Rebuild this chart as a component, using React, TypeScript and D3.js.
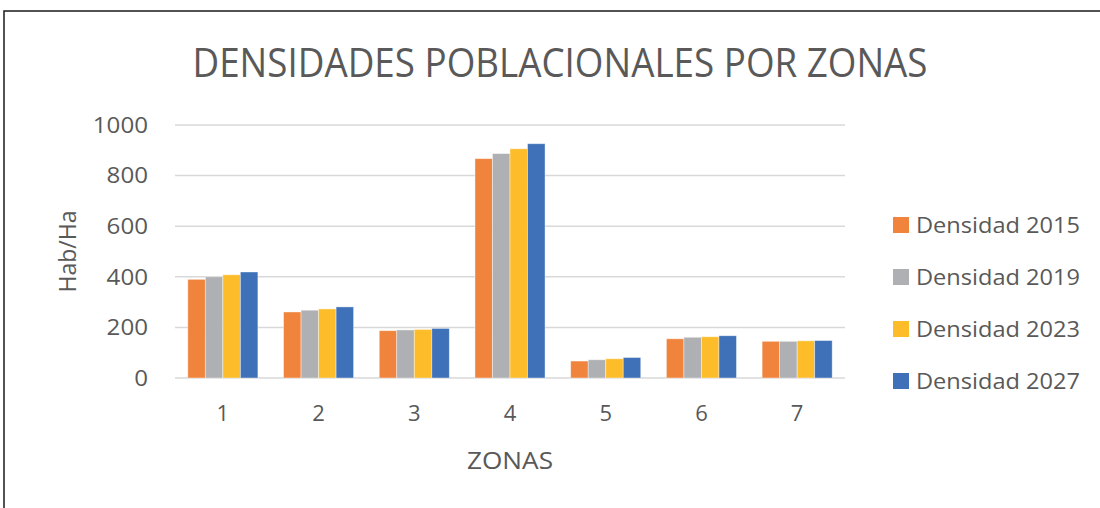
import React, { useEffect, useRef } from "react";
import * as d3 from "d3";

const width = 1100;
const height = 508;
const marginTop = 125;
const marginRight = 255;
const marginBottom = 130;
const marginLeft = 175;

const zonas = ["1", "2", "3", "4", "5", "6", "7"];
const series = ["Densidad 2015", "Densidad 2019", "Densidad 2023", "Densidad 2027"];
const d2015 = [390, 261, 187, 867, 67, 155, 145];
const d2019 = [400, 268, 190, 887, 72, 161, 145];
const d2023 = [408, 273, 192, 906, 76, 163, 147];
const d2027 = [419, 281, 196, 926, 81, 167, 148];
const yTicks = [0, 200, 400, 600, 800, 1000];
const colors = ["#F0843C", "#AFB0B3", "#FDBD2B", "#3E71B8"];

const font = "'Open Sans', sans-serif";
const textColor = "#595959";

export default function App() {
  const ref = useRef<SVGSVGElement>(null);

  useEffect(() => {
    const svg = d3.select(ref.current);
    svg.selectAll("*").remove();

    const values = [d2015, d2019, d2023, d2027];
    const rows = zonas.map((z, i) => ({ zona: z, vals: values.map(v => v[i]) }));

    const x0 = d3
      .scaleBand()
      .domain(zonas)
      .range([marginLeft, width - marginRight])
      .paddingInner(0.268)
      .paddingOuter(0.134);

    const x1 = d3.scaleBand().domain(series).range([0, x0.bandwidth()]);

    const y = d3
      .scaleLinear()
      .domain([0, 1000])
      .range([height - marginBottom, marginTop]);

    // marco
    svg
      .append("path")
      .attr("d", `M4,${height} L4,11 L${width},11`)
      .attr("fill", "none")
      .attr("stroke", "#1a1a1a")
      .attr("stroke-width", 1.5);

    // rejilla
    svg
      .append("g")
      .selectAll("line")
      .data(yTicks)
      .join("line")
      .attr("x1", marginLeft)
      .attr("x2", width - marginRight)
      .attr("y1", d => y(d))
      .attr("y2", d => y(d))
      .attr("stroke", "#D9D9D9")
      .attr("stroke-width", 1.5);

    // etiquetas eje y
    svg
      .append("g")
      .attr("font-family", font)
      .attr("font-size", 22)
      .attr("fill", textColor)
      .attr("text-anchor", "end")
      .selectAll("text")
      .data(yTicks)
      .join("text")
      .attr("x", 148)
      .attr("y", d => y(d))
      .attr("dy", "0.35em")
      .attr("textLength", d => String(d).length * 13.8)
      .attr("lengthAdjust", "spacingAndGlyphs")
      .text(d => d);

    // barras
    svg
      .append("g")
      .selectAll("g")
      .data(rows)
      .join("g")
      .attr("transform", d => `translate(${x0(d.zona)},0)`)
      .selectAll("rect")
      .data(d => d.vals.map((v, i) => ({ key: series[i], v, i })))
      .join("rect")
      .attr("x", d => x1(d.key)!)
      .attr("width", x1.bandwidth())
      .attr("y", d => y(d.v))
      .attr("height", d => y(0) - y(d.v))
      .attr("fill", d => colors[d.i])
      .attr("stroke", "#ffffff")
      .attr("stroke-opacity", 0.5)
      .attr("stroke-width", 0.8);

    // etiquetas eje x
    svg
      .append("g")
      .attr("font-family", font)
      .attr("font-size", 22)
      .attr("fill", textColor)
      .attr("text-anchor", "middle")
      .selectAll("text")
      .data(zonas)
      .join("text")
      .attr("x", d => x0(d)! + x0.bandwidth() / 2)
      .attr("y", 413)
      .attr("dy", "0.35em")
      .text(d => d);

    // título
    svg
      .append("text")
      .attr("x", 560)
      .attr("y", 77)
      .attr("text-anchor", "middle")
      .attr("font-family", font)
      .attr("font-size", 41)
      .attr("font-weight", 400)
      .attr("fill", textColor)
      .attr("textLength", 735)
      .attr("lengthAdjust", "spacingAndGlyphs")
      .text("DENSIDADES POBLACIONALES POR ZONAS");

    // títulos de ejes
    svg
      .append("text")
      .attr("x", (marginLeft + width - marginRight) / 2)
      .attr("y", 461)
      .attr("dy", "0.35em")
      .attr("text-anchor", "middle")
      .attr("font-family", font)
      .attr("font-size", 23)
      .attr("fill", textColor)
      .attr("textLength", 86)
      .attr("lengthAdjust", "spacingAndGlyphs")
      .text("ZONAS");

    svg
      .append("text")
      .attr("transform", `translate(68,${(marginTop + height - marginBottom) / 2}) rotate(-90)`)
      .attr("dy", "0.35em")
      .attr("text-anchor", "middle")
      .attr("font-family", font)
      .attr("font-size", 23)
      .attr("fill", textColor)
      .text("Hab/Ha");

    // leyenda
    const legend = svg
      .append("g")
      .selectAll("g")
      .data(series)
      .join("g")
      .attr("transform", (d, i) => `translate(893,${225 + i * 52})`);

    legend
      .append("rect")
      .attr("x", 0)
      .attr("y", -8)
      .attr("width", 16)
      .attr("height", 16)
      .attr("fill", (d, i) => colors[i]);

    legend
      .append("text")
      .attr("x", 23)
      .attr("dy", "0.35em")
      .attr("font-family", font)
      .attr("font-size", 22)
      .attr("fill", textColor)
      .attr("textLength", 164)
      .attr("lengthAdjust", "spacingAndGlyphs")
      .text(d => d);
  }, []);

  return (
    <svg
      ref={ref}
      width={width}
      height={height}
      viewBox={`0 0 ${width} ${height}`}
      style={{ position: "absolute", left: 0, top: 0, background: "#fff" }}
    ></svg>
  );
}
